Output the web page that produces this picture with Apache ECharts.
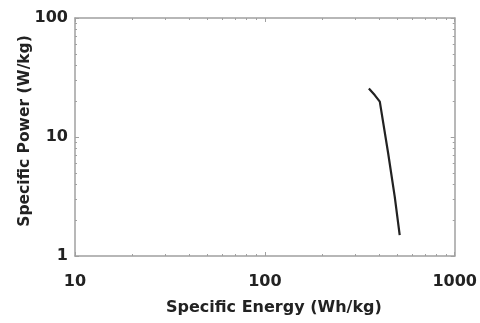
<!DOCTYPE html>
<html><head><meta charset="utf-8">
<script src="https://cdn.jsdelivr.net/npm/echarts@6/dist/echarts.min.js"></script>
<style>html,body{margin:0;padding:0;background:#fff}#c{width:480px;height:323px}</style>
</head><body><div id="c"></div>
<script>
const energy = [353, 379, 403, 446, 483, 513];
const power = [25.6, 22.5, 19.8, 7.3, 3.15, 1.5];
const xTitle = 'Specific Energy (Wh/kg)';
const yTitle = 'Specific Power (W/kg)';

const font = {fontFamily: 'DejaVu Sans', fontWeight: 'bold', fontSize: 16, color: '#222'};
const axisColor = '#a0a0a0';
function baseAxis(extra) {
  return Object.assign({
    type: 'log', logBase: 10,
    axisLine: {show: true, lineStyle: {color: axisColor, width: 1.5}},
    axisTick: {show: true, inside: true, length: 4, lineStyle: {color: axisColor}},
    minorTick: {show: true, splitNumber: 9, length: 2, lineStyle: {color: axisColor}},
    splitLine: {show: false}
  }, extra);
}
const fmt = v => String(Math.round(v));
const chart = echarts.init(document.getElementById('c'));
chart.setOption({
  animation: false,
  grid: {left: 75, right: 23, top: 18, bottom: 67, show: false},
  xAxis: [
    baseAxis({min: 10, max: 1000, position: 'bottom', name: xTitle, nameLocation: 'middle', nameGap: 44,
      nameMoveOverlap: false,
      nameTextStyle: Object.assign({padding: [0, 0, 0, 18]}, font),
      axisLabel: Object.assign({margin: 18, formatter: fmt}, font)}),
    baseAxis({min: 10, max: 1000, position: 'top', axisLabel: {show: false}})
  ],
  yAxis: [
    baseAxis({min: 1, max: 100, position: 'left', name: yTitle, nameLocation: 'middle', nameGap: 42,
      nameMoveOverlap: false,
      nameTextStyle: Object.assign({}, font, {fontSize: 15.5, padding: [0, 0, 0, 12]}),
      axisLabel: Object.assign({margin: 7, formatter: fmt}, font)}),
    baseAxis({min: 1, max: 100, position: 'right', axisLabel: {show: false}})
  ],
  series: [{
    type: 'line', data: energy.map((e, i) => [e, power[i]]), showSymbol: false,
    smooth: false, lineStyle: {color: '#222', width: 2.2}
  }]
});
</script></body></html>
